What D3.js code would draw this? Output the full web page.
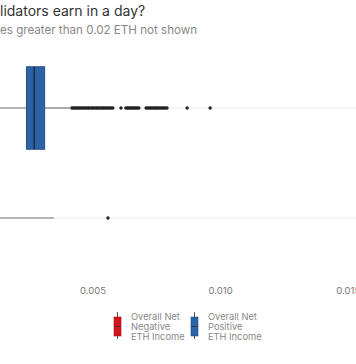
<!DOCTYPE html>
<html><head><meta charset="utf-8">
<script src="https://cdn.jsdelivr.net/npm/d3@7"></script>
<style>html,body{margin:0;padding:0;background:#fff;overflow:hidden}svg{display:block;font-family:Inter,"Noto Sans",sans-serif}</style>
</head><body>
<script>
const titleText = "How much do validators earn in a day?";
const titleHidden = "How much do va";
const subtitleText = "Values greater than 0.02 ETH not shown";
const subtitleHidden = "Valu";

const categories = ["Overall Net Positive ETH Income", "Overall Net Negative ETH Income"];
const legendLabels = [["Overall Net", "Negative", "ETH Income"], ["Overall Net", "Positive", "ETH Income"]];
const legendKeys = ["Overall Net Negative ETH Income", "Overall Net Positive ETH Income"];
const colors = ["#2c63a6", "#d5121e"];

// box stats: [lowerWhisker, q1, median, q3, upperWhisker]
const positiveStats = [0.0009, 0.00242, 0.00272, 0.00313, 0.00412];
const negativeStats = [-0.0040, -0.0015, -0.0004, 0.0009, 0.00349];
const positiveOutliers = [0.00420, 0.00425, 0.00431, 0.00436, 0.00443, 0.00448, 0.00454, 0.00461, 0.00466, 0.00472,
  0.00479, 0.00484, 0.00490, 0.00497, 0.00502, 0.00508, 0.00515, 0.00520, 0.00526, 0.00533, 0.00538, 0.00544,
  0.00551, 0.00556, 0.00562, 0.00568, 0.00574, 0.00580, 0.00612,
  0.00631, 0.00637, 0.00642, 0.00648, 0.00653, 0.00659, 0.00665, 0.00670, 0.00676, 0.00682,
  0.00710, 0.00716, 0.00722, 0.00727, 0.00733, 0.00739, 0.00745, 0.00750, 0.00756, 0.00762, 0.00768,
  0.00774, 0.00780, 0.00786, 0.00792, 0.00871, 0.00961];
const negativeOutliers = [0.00561];
const tickValues = [0.005, 0.010, 0.015];

const W = 356, H = 364;
const svg = d3.select("body").append("svg").attr("width", W).attr("height", H);

const x = d3.scaleLinear().domain([0, 0.015]).range([-35.3, 347.8]);
const y = d3.scaleBand().domain(categories).range([53, 273]);
const color = d3.scaleOrdinal().domain(legendKeys).range([colors[1], colors[0]]);

function placeCut(txt, hidden, size, fill, yy) {
  const t = svg.append("text").attr("font-size", size).text(hidden);
  const w = t.node().getComputedTextLength();
  t.text(txt).attr("x", -w).attr("y", yy).attr("fill", fill);
}
placeCut(titleText, titleHidden, 14, "#333", 16);
placeCut(subtitleText, subtitleHidden, 11.6, "#888", 34);

// gridlines
svg.append("g").selectAll("line").data(categories).join("line")
  .attr("x1", 0).attr("x2", W)
  .attr("y1", d => y(d) + y.bandwidth() / 2).attr("y2", d => y(d) + y.bandwidth() / 2)
  .attr("stroke", "#ebebeb").attr("stroke-width", 1);

const rows = [
  {cat: categories[0], s: positiveStats, o: positiveOutliers},
  {cat: categories[1], s: negativeStats, o: negativeOutliers}
];
const bh = y.bandwidth() * 0.75;
rows.forEach(r => {
  const cy = y(r.cat) + y.bandwidth() / 2;
  const g = svg.append("g");
  g.append("line").attr("x1", x(r.s[0])).attr("x2", x(r.s[1])).attr("y1", cy).attr("y2", cy).attr("stroke", "#777").attr("stroke-width", 1.2);
  g.append("line").attr("x1", x(r.s[3])).attr("x2", x(r.s[4])).attr("y1", cy).attr("y2", cy).attr("stroke", "#777").attr("stroke-width", 1.2);
  g.append("rect").attr("x", x(r.s[1])).attr("width", x(r.s[3]) - x(r.s[1]))
    .attr("y", cy - bh / 2).attr("height", bh).attr("fill", color(r.cat)).attr("stroke", d3.color(color(r.cat)).darker(0.6)).attr("stroke-width", 1);
  g.append("line").attr("x1", x(r.s[2])).attr("x2", x(r.s[2])).attr("y1", cy - bh / 2).attr("y2", cy + bh / 2).attr("stroke", "#15203a").attr("stroke-width", 1.3);
  g.selectAll("circle").data(r.o).join("circle").attr("cx", d => x(d)).attr("cy", cy).attr("r", 1.7).attr("fill", "#222");
});

// axis
const ax = svg.append("g").attr("transform", "translate(0,287)")
  .call(d3.axisBottom(x).tickValues(tickValues).tickFormat(d3.format(".3f")).tickSize(0).tickPadding(0));
ax.select(".domain").remove();
ax.selectAll("text").attr("font-size", 9.5).attr("fill", "#777").attr("font-family", "Inter,sans-serif");

// legend
const lx = [114, 191];
legendKeys.forEach((k, i) => {
  const g = svg.append("g").attr("transform", `translate(${lx[i]},0)`);
  g.append("line").attr("x1", 3.5).attr("x2", 3.5).attr("y1", 312).attr("y2", 339).attr("stroke", "#555").attr("stroke-width", 1);
  g.append("rect").attr("x", 0).attr("y", 317).attr("width", 7).attr("height", 19).attr("fill", color(k)).attr("stroke", d3.color(color(k)).darker(0.6)).attr("stroke-width", 0.6);
  g.append("line").attr("x1", 0).attr("x2", 7).attr("y1", 326.5).attr("y2", 326.5).attr("stroke", "#333").attr("stroke-width", 0.8);
  g.append("text").attr("x", 17).attr("y", 320).attr("font-size", 9.3).attr("fill", "#888")
    .selectAll("tspan").data(legendLabels[i]).join("tspan").attr("x", 17).attr("dy", (d, j) => j ? 10 : 0).text(d => d);
});
</script>
</body></html>
